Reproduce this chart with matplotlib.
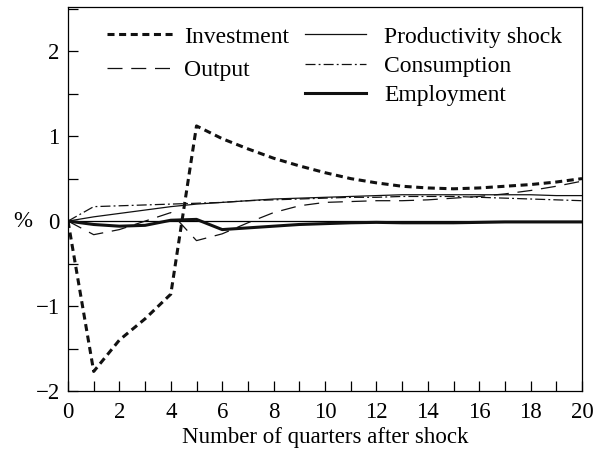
import numpy as np
import matplotlib
matplotlib.use("Agg")
import matplotlib.pyplot as plt

plt.rcParams['font.family'] = ['Liberation Serif', 'DejaVu Serif']

quarters = np.arange(0, 21)

investment = [0.0, -1.77, -1.40, -1.15, -0.86, 1.12, 0.97, 0.85, 0.74, 0.65, 0.57,
              0.50, 0.45, 0.41, 0.39, 0.38, 0.39, 0.41, 0.43, 0.46, 0.50]
output = [0.0, -0.16, -0.10, 0.0, 0.10, -0.23, -0.15, -0.02, 0.10, 0.18, 0.22,
          0.23, 0.24, 0.24, 0.25, 0.27, 0.29, 0.32, 0.36, 0.41, 0.47]
productivity = [0.0, 0.05, 0.09, 0.13, 0.17, 0.20, 0.22, 0.24, 0.26, 0.27, 0.28,
                0.29, 0.30, 0.31, 0.31, 0.31, 0.31, 0.31, 0.31, 0.30, 0.30]
consumption = [0.0, 0.17, 0.18, 0.19, 0.20, 0.21, 0.22, 0.24, 0.25, 0.26, 0.27,
               0.28, 0.28, 0.29, 0.29, 0.29, 0.28, 0.27, 0.26, 0.25, 0.24]
employment = [0.0, -0.04, -0.06, -0.05, 0.01, 0.02, -0.10, -0.08, -0.06, -0.04, -0.03,
              -0.02, -0.015, -0.02, -0.02, -0.02, -0.015, -0.01, -0.01, -0.01, -0.01]

FS = 16.5
LEG_FS = 17

fig = plt.figure(figsize=(5.93, 4.55), dpi=100)
ax = fig.add_axes([68 / 593, 1 - 391 / 455, (582 - 68) / 593, (391 - 7) / 455])

ax.axhline(0, color='black', lw=0.9, zorder=1)

l_inv, = ax.plot(quarters, investment, color='#111', lw=2.2, dashes=(2.3, 1.5), label='Investment')
l_out, = ax.plot(quarters, output, color='#111', lw=0.9, dashes=(12, 7), label='Output')
l_prod, = ax.plot(quarters, productivity, color='#111', lw=0.9, label='Productivity shock')
l_cons, = ax.plot(quarters, consumption, color='#111', lw=0.9, dashes=(8, 2.5, 1.5, 2.5), label='Consumption')
l_emp, = ax.plot(quarters, employment, color='#111', lw=2.2, label='Employment')

ax.set_xlim(0, 20)
ax.set_ylim(-2, 2.52)
ax.set_xticks(np.arange(0, 21, 2))
ax.set_xticks(np.arange(0, 21, 1), minor=True)
ax.set_yticks([-2, -1, 0, 1, 2])
ax.set_yticklabels(['\u22122', '\u22121', '0', '1', '2'])
ax.set_yticks(np.arange(-2, 2.6, 0.5), minor=True)
ax.tick_params(which='both', direction='in', length=7, width=0.9, labelsize=FS,
               top=False, right=False)
ax.tick_params(axis='x', pad=8)
ax.tick_params(axis='y', pad=6)
for s in ax.spines.values():
    s.set_linewidth(0.9)

ax.set_xlabel('Number of quarters after shock', fontsize=FS, labelpad=3)
ax.text(-1.75, 0, '%', fontsize=FS, ha='center', va='center')

# two legend blocks: dashed series on the left, the rest on the right
leg1 = ax.legend(handles=[l_inv, l_out], loc='upper left', bbox_to_anchor=(0.076, 0.95),
                 frameon=False, fontsize=LEG_FS, handlelength=2.9, handletextpad=0.35,
                 labelspacing=0.5, borderaxespad=0, borderpad=0)
ax.add_artist(leg1)
ax.legend(handles=[l_prod, l_cons, l_emp], loc='upper left', bbox_to_anchor=(0.461, 0.95),
          frameon=False, fontsize=LEG_FS, handlelength=2.6, handletextpad=0.75,
          labelspacing=0.32, borderaxespad=0, borderpad=0)

fig.savefig('out.png', dpi=100)
